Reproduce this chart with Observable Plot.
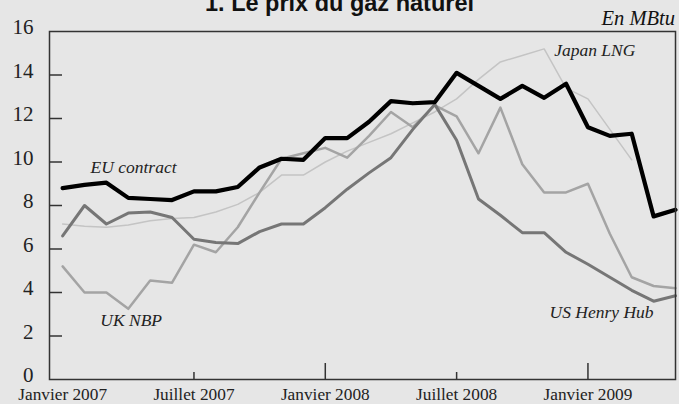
<!DOCTYPE html>
<html>
<head>
<meta charset="utf-8">
<script src="https://cdn.jsdelivr.net/npm/d3@7"></script>
<script src="https://cdn.jsdelivr.net/npm/@observablehq/plot@0.6"></script>
<style>
  html, body { margin: 0; padding: 0; background: #e6e6e6; }
  #wrap { position: relative; width: 679px; height: 404px; overflow: hidden; background: #e6e6e6; }
  #chart { position: absolute; left: 0; top: 0; }
  #title { position: absolute; left: 0; top: -8px; width: 679px; text-align: center;
           font: bold 23.5px "Liberation Sans", Arial, sans-serif; line-height: 23.5px; color: #111; }
  #unit { position: absolute; right: 4px; top: 8px; font: italic 20.5px "Liberation Serif", "Times New Roman", serif;
          line-height: 20.5px; color: #111; }
</style>
</head>
<body>
<div id="wrap">
  <div id="chart"></div>
  <div id="title">1. Le prix du gaz naturel</div>
  <div id="unit">En MBtu</div>
</div>
<script>
// Monthly observations, January 2007 to May 2009
const months = [
  "2007-01","2007-02","2007-03","2007-04","2007-05","2007-06","2007-07","2007-08","2007-09","2007-10","2007-11","2007-12",
  "2008-01","2008-02","2008-03","2008-04","2008-05","2008-06","2008-07","2008-08","2008-09","2008-10","2008-11","2008-12",
  "2009-01","2009-02","2009-03","2009-04","2009-05"
];
const euContract = [8.8, 8.95, 9.05, 8.35, 8.3, 8.25, 8.65, 8.65, 8.85, 9.75, 10.15, 10.1,
  11.1, 11.1, 11.85, 12.8, 12.7, 12.75, 14.1, 13.5, 12.9, 13.5, 12.95, 13.6,
  11.6, 11.2, 11.3, 7.5, 7.8];
const japanLNG = [7.15, 7.05, 7.0, 7.1, 7.3, 7.4, 7.45, 7.7, 8.05, 8.6, 9.4, 9.4,
  10.0, 10.5, 10.9, 11.3, 11.8, 12.3, 12.9, 13.8, 14.6, 14.9, 15.2, 13.4,
  12.9, 11.5, 10.1];
const ukNBP = [5.2, 4.0, 4.0, 3.25, 4.55, 4.45, 6.2, 5.85, 7.0, 8.6, 10.15, 10.4,
  10.65, 10.2, 11.2, 12.3, 11.6, 12.6, 12.1, 10.4, 12.5, 9.9, 8.6, 8.6,
  9.0, 6.7, 4.7, 4.3, 4.2];
const usHenryHub = [6.6, 8.0, 7.15, 7.65, 7.7, 7.45, 6.45, 6.3, 6.25, 6.8, 7.15, 7.15,
  7.9, 8.75, 9.5, 10.2, 11.5, 12.65, 11.0, 8.3, 7.55, 6.75, 6.75, 5.85,
  5.3, 4.7, 4.1, 3.6, 3.85];

const yTicks = [0, 2, 4, 6, 8, 10, 12, 14, 16];
const xTickMonths = ["2007-01", "2007-07", "2008-01", "2008-07", "2009-01"];
const xTickLabels = ["Janvier 2007", "Juillet 2007", "Janvier 2008", "Juillet 2008", "Janvier 2009"];
const yearTickMonths = ["2008-01", "2009-01"];
const halfTickMonths = ["2007-07", "2008-07"];

const W = 679, H = 404, ML = 49, MR = 4, MT = 31, MB = 25;
const plotW = W - ML - MR, plotH = H - MT - MB;
const idx = m => months.indexOf(m);
const rows = (vals) => vals.map((v, i) => ({i, v}));

const serif = "'Liberation Serif', 'Times New Roman', serif";
const labelStyle = {fontFamily: serif, fontStyle: "italic", fontSize: 17.5, fill: "#222", lineAnchor: "bottom"};

const chart = Plot.plot({
  width: W, height: H,
  marginLeft: ML, marginRight: MR, marginTop: MT, marginBottom: MB,
  style: {background: "transparent", fontFamily: serif, color: "#222", overflow: "visible"},
  x: {type: "linear", domain: [-0.6, months.length - 1], axis: null},
  y: {domain: [0, 16], axis: null},
  marks: [
    Plot.line(rows(japanLNG), {x: "i", y: "v", stroke: "#c4c4c4", strokeWidth: 1.5}),
    Plot.line(rows(ukNBP), {x: "i", y: "v", stroke: "#a4a4a4", strokeWidth: 2.5}),
    Plot.line(rows(usHenryHub), {x: "i", y: "v", stroke: "#767676", strokeWidth: 3}),
    Plot.line(rows(euContract), {x: "i", y: "v", stroke: "#000", strokeWidth: 4.2}),
    Plot.frame({stroke: "#333", strokeWidth: 1.5}),
    Plot.tickY(yTicks.slice(1, -1), {y: d => d, insetRight: plotW - 13, stroke: "#333", strokeWidth: 1.5}),
    Plot.tickX(yearTickMonths, {x: d => idx(d), insetTop: plotH - 16, stroke: "#333", strokeWidth: 1.5}),
    Plot.tickX(halfTickMonths, {x: d => idx(d), insetTop: plotH - 7, stroke: "#333", strokeWidth: 1.5}),
    Plot.axisY(yTicks, {tickSize: 0, tickPadding: 16, fontSize: 21, dy: -4, fill: "#222", label: null}),
    Plot.axisX(xTickMonths.map(idx), {tickSize: 0, tickPadding: 8, fontSize: 17.3, fill: "#222", label: null,
      tickFormat: d => xTickLabels[xTickMonths.map(idx).indexOf(d)]}),
    Plot.text(["EU contract"], {x: 1, y: euContract[1], text: d => d, textAnchor: "start", dx: 6, dy: -12, ...labelStyle}),
    Plot.text(["Japan LNG"], {x: 22, y: japanLNG[22], text: d => d, textAnchor: "start", dx: 10, dy: 7, ...labelStyle}),
    Plot.text(["UK NBP"], {x: 3, y: ukNBP[3], text: d => d, textAnchor: "start", dx: -28, dy: 17, ...labelStyle}),
    Plot.text(["US Henry Hub"], {x: 27, y: usHenryHub[27], text: d => d, textAnchor: "end", dx: 0, dy: 17, ...labelStyle})
  ]
});
document.getElementById("chart").appendChild(chart);
</script>
</body>
</html>
